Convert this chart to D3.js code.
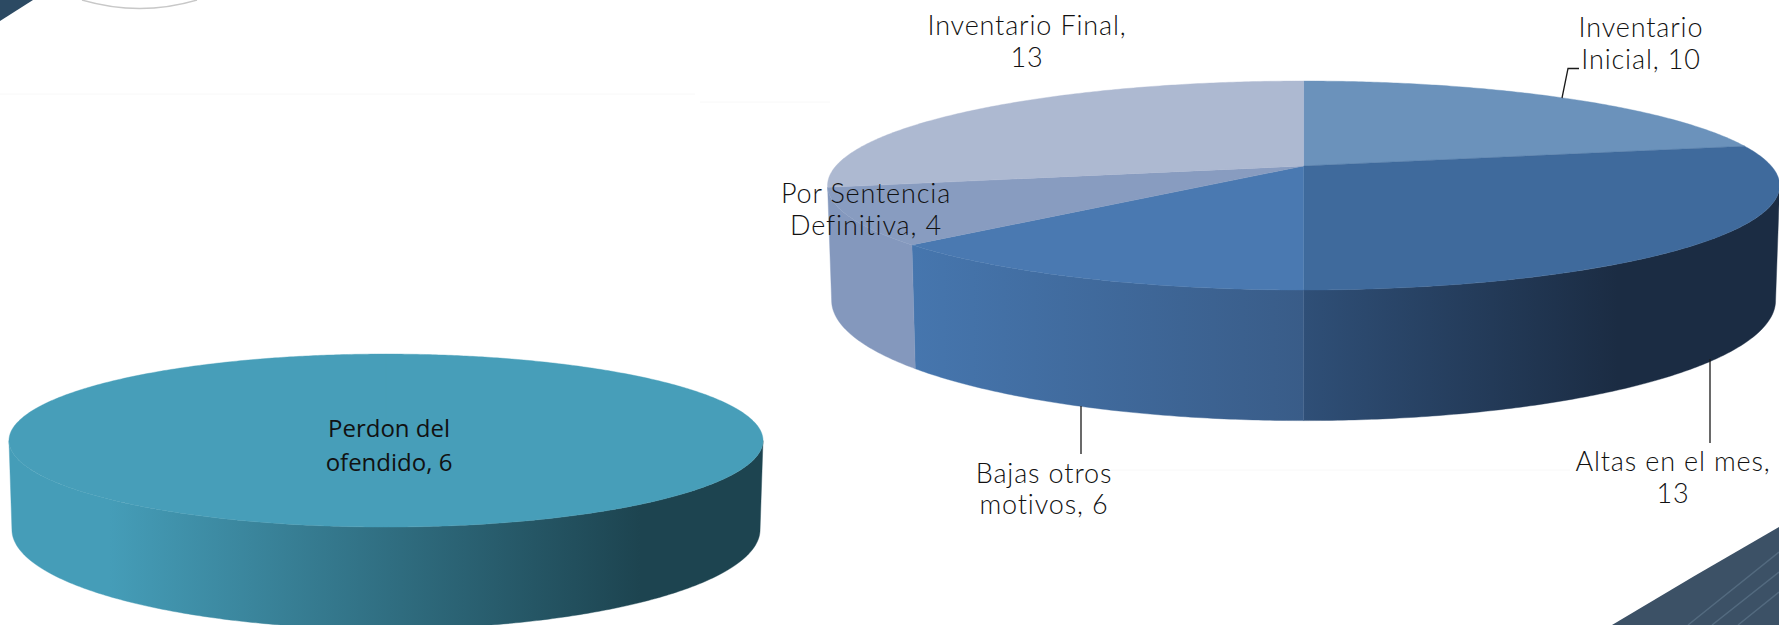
<!DOCTYPE html>
<html>
<head>
<meta charset="utf-8">
<script src="https://cdn.jsdelivr.net/npm/d3@7"></script>
<style>
html, body { margin: 0; padding: 0; background: #fff; overflow: hidden; }
svg { display: block; }
</style>
</head>
<body>
<script>
// data
var categories = ["Inventario Inicial", "Altas en el mes", "Bajas otros motivos", "Por Sentencia Definitiva", "Inventario Final"];
var values = [10, 13, 6, 4, 13];
var wrapAfter = [1, 4, 2, 2, 2];   // words on first line of each label

var categories2 = ["Perdon del ofendido"];
var values2 = [6];
var wrapAfter2 = [2];

// colours for the right pie
var topColors = ["#6b92bb", "#3f6a9c", "#4a79b1", "#889cc0", "#adb9d1"];
var wallStops = [
    null,
    [["0%", "#2f4f77"], ["66%", "#1b2c43"], ["100%", "#1b2c43"]],
    [["0%", "#4676ae"], ["100%", "#395c88"]],
    [["0%", "#8498bd"], ["100%", "#8498bd"]],
    null
];

var width = 1779, height = 625;
var TAU = Math.PI * 2;
var k = -0.1866;   // perspective of the tilted disc

var svg = d3.select("body").append("svg")
    .attr("width", width)
    .attr("height", height);
var defs = svg.append("defs");

// maps a pie angle (0 = top, clockwise) onto a rim of the disc
function projector(rim) {
    return function(a) {
        var u = Math.sin(a), v = -Math.cos(a);
        var d = 1 + k * v;
        return [rim.cx + rim.b * u / d, rim.cy + rim.a * v / d];
    };
}

function arcPoints(p, a0, a1) {
    var n = Math.max(2, Math.ceil((a1 - a0) / 0.01));
    return d3.range(n + 1).map(function(i) { return p(a0 + (a1 - a0) * i / n); });
}

var line = d3.line();

function gradient(id, stops, x0, x1) {
    var g = defs.append("linearGradient")
        .attr("id", id)
        .attr("gradientUnits", "userSpaceOnUse")
        .attr("x1", x0).attr("x2", x1).attr("y1", 0).attr("y2", 0);
    stops.forEach(function(s) {
        g.append("stop").attr("offset", s[0]).attr("stop-color", s[1]);
    });
    return "url(#" + id + ")";
}

function wall(pTop, pBot, a0, a1, fill) {
    var pts = arcPoints(pTop, a0, a1).concat(arcPoints(pBot, a0, a1).reverse());
    svg.append("path")
        .attr("d", line(pts) + "Z")
        .attr("fill", fill)
        .attr("stroke", fill)
        .attr("stroke-width", 0.4);
}

function wedge(pTop, center, a0, a1, fill) {
    var pts = [center].concat(arcPoints(pTop, a0, a1));
    svg.append("path")
        .attr("d", line(pts) + "Z")
        .attr("fill", fill)
        .attr("stroke", fill)
        .attr("stroke-width", 0.4);
}

function label(name, value, wrap, x, y, cls) {
    var words = (name + ", " + value).split(" ");
    var t = svg.append("text")
        .attr("class", cls)
        .attr("text-anchor", "middle");
    [words.slice(0, wrap).join(" "), words.slice(wrap).join(" ")].forEach(function(s, i) {
        t.append("tspan").attr("x", x).attr("y", y[i]).text(s);
    });
    return t;
}

function leader(pts) {
    svg.append("path")
        .attr("d", line(pts))
        .attr("fill", "none")
        .attr("stroke", "#1a1a1a")
        .attr("stroke-width", 1.3);
}

// background bits
svg.append("path")
    .attr("d", "M0,0 L33,0 L0,21 Z")
    .attr("fill", "#2c4a63");
svg.append("path")
    .attr("d", "M82,0 Q140,17 197,0")
    .attr("fill", "none")
    .attr("stroke", "#c8c8c8")
    .attr("stroke-width", 1.4);
svg.append("path")
    .attr("d", "M0,94 L695,94 M700,102 L830,102 M1111,470 L1570,470")
    .attr("stroke", "#f8f8f8")
    .attr("fill", "none");
svg.append("path")
    .attr("d", "M1612,625 Q1695,575 1779,527 L1779,625 Z")
    .attr("fill", "#3c5166");
svg.append("path")
    .attr("d", "M1688,625 L1779,552 M1712,625 L1779,572 M1738,625 L1779,592")
    .attr("stroke", "#536a7f")
    .attr("stroke-width", 1.5)
    .attr("fill", "none");

// right pie
var pie = d3.pie().sort(null).startAngle(0).endAngle(TAU);
var arcs = pie(values);

var rTop = { cx: 1303.6, cy: 166, a: 100.86, b: 467.7 };
var rBot = { cx: 1303.6, cy: 278, a: 116, b: 463.7 };
var pT = projector(rTop), pB = projector(rBot);
var wallStart = Math.acos(k), wallEnd = TAU - wallStart;

arcs.forEach(function(d, i) {
    var a0 = Math.max(d.startAngle, wallStart), a1 = Math.min(d.endAngle, wallEnd);
    if (a1 <= a0 || !wallStops[i]) return;
    var x0 = d3.min([pT(a0)[0], pT(a1)[0]]), x1 = d3.max([pT(a0)[0], pT(a1)[0]]);
    wall(pT, pB, a0, a1, gradient("wall" + i, wallStops[i], x0, x1));
});
arcs.forEach(function(d, i) {
    wedge(pT, [rTop.cx, rTop.cy], d.startAngle, d.endAngle, topColors[i]);
});

leader([[1562, 98], [1568, 68.5], [1579, 68.5]]);
leader([[1710, 359], [1710, 443]]);
leader([[1081, 406], [1081, 454]]);

var labelX = [1641, 1673, 1044, 866, 1027];
var labelY = [[37, 68.5], [471, 503], [483, 514], [203, 235], [35, 67]];
categories.forEach(function(c, i) {
    label(c, values[i], wrapAfter[i], labelX[i], labelY[i], "lab");
});

// left pie
var rTop2 = { cx: 386, cy: 424.4, a: 83.5, b: 370.4 };
var rBot2 = { cx: 386, cy: 511, a: 96, b: 367.5 };
var pT2 = projector(rTop2), pB2 = projector(rBot2);
var arcs2 = pie(values2);
var fill2 = gradient("wallLeft", [["0%", "#459db8"], ["13%", "#459db8"], ["84%", "#1d4450"], ["100%", "#1d4450"]], 12, 760);
wall(pT2, pB2, wallStart, wallEnd, fill2);
arcs2.forEach(function(d) {
    wedge(pT2, [rTop2.cx, rTop2.cy], d.startAngle, d.endAngle, "#479eb9");
});
categories2.forEach(function(c, i) {
    label(c, values2[i], wrapAfter2[i], 389, [437, 471], "lab2");
});

svg.selectAll(".lab")
    .attr("font-family", "Lato, sans-serif")
    .attr("font-weight", 300)
    .attr("font-size", "27px")
    .attr("letter-spacing", "0.85px")
    .attr("fill", "#111");
svg.selectAll(".lab2")
    .attr("font-family", "'Open Sans', sans-serif")
    .attr("font-size", "24px")
    .attr("fill", "#111");
</script>
</body>
</html>
